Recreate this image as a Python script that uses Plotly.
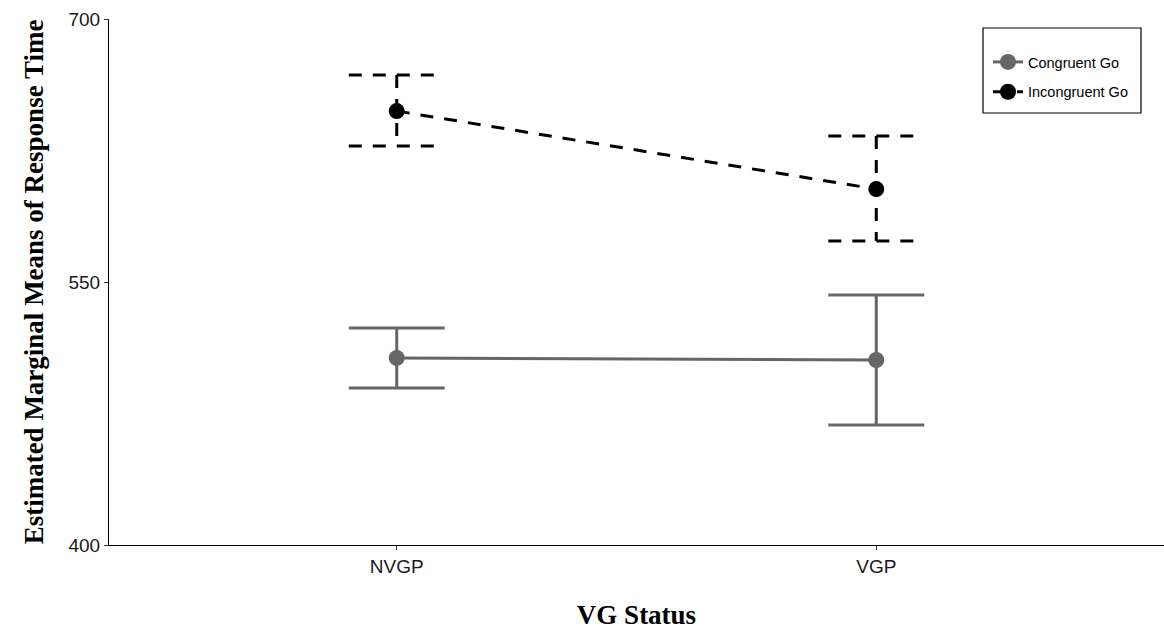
import plotly.graph_objects as go

categories = ["NVGP", "VGP"]
cong_mean = [506.7, 505.5]
cong_lo = [489.5, 468.4]
cong_hi = [523.8, 542.6]
incong_mean = [647.5, 603.0]
incong_lo = [627.6, 573.4]
incong_hi = [668.1, 633.3]
y_ticks = [400, 550, 700]

xpos = [i + 1 for i in range(len(categories))]
cap = 0.1

fig = go.Figure()

def add_errorbars(means, lo, hi, color, dash, name, grp):
    xs, ys = [], []
    for x, l, h in zip(xpos, lo, hi):
        xs += [x - cap, x + cap, None, x, x, None, x - cap, x + cap, None]
        ys += [h, h, None, h, l, None, l, l, None]
    fig.add_trace(go.Scatter(x=xs, y=ys, mode="lines", showlegend=False,
                             line=dict(color=color, width=3, dash=dash), hoverinfo="skip"))
    fig.add_trace(go.Scatter(x=xpos, y=means, mode="lines+markers", name=name,
                             legendgroup=grp,
                             line=dict(color=color, width=3, dash=dash),
                             marker=dict(color=color, size=16)))

add_errorbars(cong_mean, cong_lo, cong_hi, "#666666", "solid", "Congruent Go", "a")
add_errorbars(incong_mean, incong_lo, incong_hi, "#000000", "13px,11px", "Incongruent Go", "b")

W, H = 1164, 630
L, R, T, B = 109, 0, 19, 85
pw, ph = W - L - R, H - T - B
def px(x): return (x - L) / pw
def py(y): return (H - B - y) / ph

fig.add_shape(type="rect", xref="paper", yref="paper",
              x0=px(983), x1=px(1141), y0=py(113), y1=py(28),
              line=dict(color="black", width=1.2), fillcolor="rgba(0,0,0,0)")

fig.update_layout(
    width=W, height=H,
    margin=dict(l=L, r=R, t=T, b=B),
    paper_bgcolor="white", plot_bgcolor="white",
    font=dict(family="Liberation Sans, Arial", color="black"),
    legend=dict(x=px(988), y=py(46), xanchor="left", yanchor="top",
                borderwidth=0, bgcolor="rgba(0,0,0,0)",
                font=dict(size=14.5, family="Liberation Sans, Arial"),
                itemwidth=30, tracegroupgap=8),
    xaxis=dict(range=[0.4, 2.6], tickvals=xpos, ticktext=categories,
               showgrid=False, zeroline=False, showline=True, linecolor="black", linewidth=1.2,
               ticks="outside", ticklen=4, tickcolor="#333333",
               tickfont=dict(size=19, color="#1a1a1a"),
               title=dict(text="VG Status", font=dict(family="Liberation Serif, Times New Roman", size=27),
                          standoff=30)),
    yaxis=dict(range=[400, 700], tickvals=y_ticks,
               showgrid=False, zeroline=False, showline=True, linecolor="black", linewidth=1.2,
               ticks="outside", ticklen=4, tickcolor="#333333",
               tickfont=dict(size=19, color="#1a1a1a"),
               title=dict(text="Estimated Marginal Means of Response Time",
                          font=dict(family="Liberation Serif, Times New Roman", size=27),
                          standoff=16)),
)
fig.update_xaxes(title_font_weight="bold")
fig.update_yaxes(title_font_weight="bold")

fig.write_html("out.html")
